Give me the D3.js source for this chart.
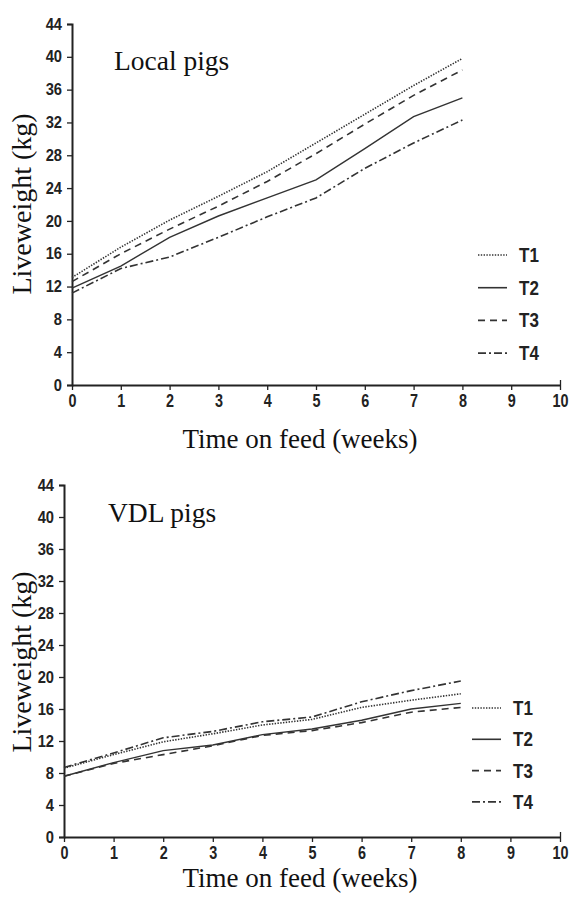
<!DOCTYPE html>
<html>
<head>
<meta charset="utf-8">
<script src="https://cdn.jsdelivr.net/npm/d3@7"></script>
<style>
  body { margin: 0; background: #fff; }
  .tick text { font-family: "Liberation Sans", Arial, sans-serif; font-weight: bold; fill: #222; }
</style>
</head>
<body>
<div id="chart"></div>
<script>
// Datos
const semanas = [0, 1, 2, 3, 4, 5, 6, 7, 8];
const series = ["T1", "T2", "T3", "T4"];
const ticksY = [0, 4, 8, 12, 16, 20, 24, 28, 32, 36, 40, 44];
const ticksX = [0, 1, 2, 3, 4, 5, 6, 7, 8, 9, 10];

const localT1 = [13.1, 16.8, 20.1, 23.0, 26.0, 29.5, 33.0, 36.5, 39.8];
const localT2 = [11.8, 14.5, 18.0, 20.6, 22.8, 25.0, 28.8, 32.7, 35.0];
const localT3 = [12.6, 16.0, 19.0, 21.8, 24.8, 28.2, 31.8, 35.3, 38.4];
const localT4 = [11.2, 14.2, 15.6, 18.0, 20.5, 22.8, 26.4, 29.5, 32.3];

const vdlT1 = [8.6, 10.3, 11.9, 12.9, 14.0, 14.7, 16.2, 17.1, 17.9];
const vdlT2 = [7.6, 9.3, 10.8, 11.5, 12.8, 13.5, 14.6, 16.0, 16.7];
const vdlT3 = [7.6, 9.2, 10.3, 11.4, 12.7, 13.3, 14.3, 15.6, 16.2];
const vdlT4 = [8.7, 10.5, 12.4, 13.2, 14.4, 15.0, 16.9, 18.3, 19.5];

// Estilos de linea
const guiones = { T1: "1.4,1.4", T2: null, T3: "7,5", T4: "8,3,2,3" };
const colorLinea = "#333";

const svg = d3.select("#chart")
  .append("svg")
  .attr("width", 570)
  .attr("height", 897);

function panel(cfg) {
  const x = d3.scaleLinear().domain([0, 10]).range([cfg.x0, 560]);
  const y = d3.scaleLinear().domain([0, 44]).range([cfg.y0, cfg.y44]);

  const g = svg.append("g");

  // eje X
  const ejeX = g.append("g")
    .attr("transform", `translate(0,${cfg.y0})`)
    .call(d3.axisBottom(x).tickValues(ticksX).tickSize(5).tickSizeOuter(0).tickPadding(4));
  ejeX.select(".domain").attr("stroke", "#222").attr("stroke-width", 2);
  ejeX.selectAll(".tick line").attr("stroke", "#222").attr("stroke-width", 1.3);
  ejeX.selectAll(".tick").filter(d => d === 10).select("line").attr("y1", -5);
  ejeX.selectAll(".tick text")
    .attr("font-size", 18)
    .attr("transform", "scale(0.8,1)");

  // eje Y
  const ejeY = g.append("g")
    .attr("transform", `translate(${cfg.x0},0)`)
    .call(d3.axisLeft(y).tickValues(ticksY).tickSize(5).tickSizeOuter(5).tickPadding(5));
  ejeY.select(".domain").attr("stroke", "#222").attr("stroke-width", 2);
  ejeY.selectAll(".tick line").attr("stroke", "#222").attr("stroke-width", 1.3);
  ejeY.selectAll(".tick text")
    .attr("font-size", 16)
    .attr("x", -10 / 0.92)
    .attr("transform", "scale(0.92,1)");

  // lineas
  const linea = d3.line()
    .x((d, i) => x(semanas[i]))
    .y(d => y(d));

  series.forEach((s, k) => {
    g.append("path")
      .attr("d", linea(cfg.datos[k]))
      .attr("fill", "none")
      .attr("stroke", colorLinea)
      .attr("stroke-width", s === "T2" ? 1.4 : 1.6)
      .attr("stroke-dasharray", guiones[s]);
  });

  // leyenda
  const ley = g.append("g");
  series.forEach((s, k) => {
    const yy = cfg.leyY + k * cfg.leyPaso;
    ley.append("line")
      .attr("x1", cfg.leyX).attr("x2", cfg.leyX + 29)
      .attr("y1", yy).attr("y2", yy)
      .attr("stroke", colorLinea)
      .attr("stroke-width", 1.6)
      .attr("stroke-dasharray", guiones[s]);
    ley.append("text")
      .attr("transform", `translate(${cfg.leyX + 41},${yy + 7}) scale(0.85,1)`)
      .attr("font-family", "'Liberation Sans', Arial, sans-serif")
      .attr("font-weight", "bold")
      .attr("font-size", 20)
      .attr("fill", "#222")
      .text(s);
  });

  // titulo del panel
  g.append("text")
    .attr("x", cfg.tituloX).attr("y", cfg.tituloY)
    .attr("font-family", "'Liberation Serif', serif")
    .attr("font-size", 27.5)
    .attr("fill", "#111")
    .text(cfg.titulo);

  // etiquetas de ejes
  g.append("text")
    .attr("x", 300).attr("y", cfg.etqXY)
    .attr("text-anchor", "middle")
    .attr("font-family", "'Liberation Serif', serif")
    .attr("font-size", 27)
    .attr("fill", "#111")
    .text("Time on feed (weeks)");

  g.append("text")
    .attr("transform", `translate(31,${cfg.etqYc}) rotate(-90)`)
    .attr("text-anchor", "middle")
    .attr("font-family", "'Liberation Serif', serif")
    .attr("font-size", 28)
    .attr("fill", "#111")
    .text("Liveweight (kg)");
}

panel({
  x0: 72, y0: 385, y44: 24,
  datos: [localT1, localT2, localT3, localT4],
  leyX: 478, leyY: 255, leyPaso: 32.7,
  titulo: "Local pigs", tituloX: 114, tituloY: 70,
  etqXY: 448, etqYc: 204
});

panel({
  x0: 64, y0: 837, y44: 485,
  datos: [vdlT1, vdlT2, vdlT3, vdlT4],
  leyX: 472, leyY: 708, leyPaso: 31.3,
  titulo: "VDL pigs", tituloX: 108, tituloY: 522,
  etqXY: 887, etqYc: 662
});
</script>
</body>
</html>
